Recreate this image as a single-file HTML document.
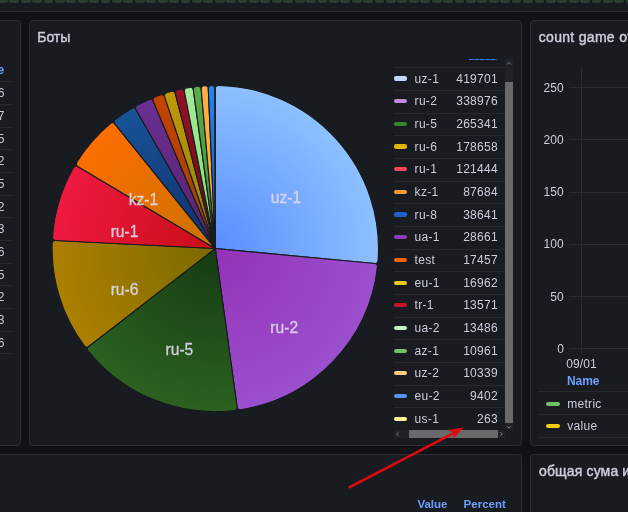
<!DOCTYPE html>
<html lang="ru"><head><meta charset="utf-8"><title>Боты</title>
<style>
html,body{margin:0;padding:0}
body{width:628px;height:512px;overflow:hidden;position:relative;background:#111217;font-family:"Liberation Sans",sans-serif;color:#ccccdc;font-size:12px}
.panel{position:absolute;box-sizing:border-box;background:#181b1f;border:1px solid #2a2d32;border-radius:4px;overflow:hidden}
.title{position:absolute;font-size:14px;line-height:16px;color:#ccccdc;white-space:nowrap;-webkit-text-stroke:0.45px #ccccdc}
.top i{position:absolute;top:15px;height:7.3px;width:9.8px;border-radius:2px;background:#2b3d2c}
.pie{position:absolute;left:-1px;top:-1px}
.plabels text{font-family:"Liberation Sans",sans-serif;font-size:15.6px}
.legend{position:absolute;left:364px;top:37.7px;width:119px;height:380px;overflow:hidden}
.lr{position:absolute;left:0;width:111px;height:22.67px;line-height:22.67px;white-space:nowrap}
.lr i{position:absolute;left:0px;top:9.2px;width:13.2px;height:4.1px;border-radius:2px}
.ln{position:absolute;left:20.6px;top:0.4px;letter-spacing:0.3px}
.lv{position:absolute;right:7.2px;top:0.4px;letter-spacing:0.25px}
.sep{position:absolute;left:0;width:111px;height:1px;background:#26292e}
.vtrack{position:absolute;left:111px;top:0;width:8px;height:371.5px;background:#1f2226}
.vthumb{position:absolute;left:0;top:23.3px;width:8px;height:340.6px;background:#6a6a6c}
.htrack{position:absolute;left:0;top:371.5px;width:111px;height:8px;background:#1f2226}
.hthumb{position:absolute;left:15px;top:0;width:88.6px;height:8px;background:#6a6a6c}
.hdrfrag{position:absolute;left:74.8px;top:0px;width:28.2px;height:1.4px;background:repeating-linear-gradient(90deg,#3f78f5 0 4px,#2b4ea0 4px 5.5px)}
.lt{position:absolute;left:-2.2px;width:7px;height:22.68px;line-height:25.4px;text-align:left;font-size:12px}
.lsep{position:absolute;left:-1px;width:13px;height:1px;background:#26292e}
.yl{position:absolute;left:0;width:34px;text-align:right;height:16px;line-height:16px;letter-spacing:0.2px}
.gh{position:absolute;left:38.5px;width:80px;height:1px;background:#2a2d32}
.gv{position:absolute;left:51px;top:66.6px;width:1px;height:287px;background:#2a2d32}
.hdr{position:absolute;color:#6e9fff;font-weight:bold;font-size:11.5px;white-space:nowrap;line-height:14px}
.rrow{position:absolute;left:8px;width:120px;height:22.8px;line-height:22.8px;border-top:1px solid #26292e}
.rrow i{position:absolute;left:7.8px;top:9.2px;width:14px;height:4.1px;border-radius:2px}
.rrow span{position:absolute;left:29.2px;top:0.2px;letter-spacing:0.3px}
</style></head><body>

<div class="panel top" style="left:-10px;top:-20px;width:660px;height:32px;border-radius:0"><i style="left:6.90px"></i><i style="left:18.32px"></i><i style="left:29.73px"></i><i style="left:41.15px"></i><i style="left:52.57px"></i><i style="left:63.98px"></i><i style="left:75.40px"></i><i style="left:86.82px"></i><i style="left:98.24px"></i><i style="left:109.65px"></i><i style="left:121.07px"></i><i style="left:132.49px"></i><i style="left:143.90px"></i><i style="left:155.32px"></i><i style="left:166.74px"></i><i style="left:178.16px"></i><i style="left:189.57px"></i><i style="left:200.99px"></i><i style="left:212.41px"></i><i style="left:223.82px"></i><i style="left:235.24px"></i><i style="left:246.66px"></i><i style="left:258.07px"></i><i style="left:269.49px"></i><i style="left:280.91px"></i><i style="left:292.32px"></i><i style="left:303.74px"></i><i style="left:315.16px"></i><i style="left:326.58px"></i><i style="left:337.99px"></i><i style="left:349.41px"></i><i style="left:360.83px"></i><i style="left:372.24px"></i><i style="left:383.66px"></i><i style="left:395.08px"></i><i style="left:406.49px"></i><i style="left:417.91px"></i><i style="left:429.33px"></i><i style="left:440.75px"></i><i style="left:452.16px"></i><i style="left:463.58px"></i><i style="left:475.00px"></i><i style="left:486.41px"></i><i style="left:497.83px"></i><i style="left:509.25px"></i><i style="left:520.66px"></i><i style="left:532.08px"></i><i style="left:543.50px"></i><i style="left:554.92px"></i><i style="left:566.33px"></i><i style="left:577.75px"></i><i style="left:589.17px"></i><i style="left:600.58px"></i><i style="left:612.00px"></i><i style="left:623.42px"></i><i style="left:634.83px"></i><i style="left:646.25px"></i></div>

<div class="panel" style="left:-100px;top:20px;width:121px;height:426px">
  <div style="position:absolute;left:99px;top:-1px;width:22px;height:426px">
    <div class="hdr" style="left:-2.4px;top:42.6px;font-size:12px">e</div>
    <div style="position:absolute;left:0;top:-20px"><div class="lsep" style="top:81.20px"></div><div class="lsep" style="top:103.88px"></div><div class="lsep" style="top:126.56px"></div><div class="lsep" style="top:149.24px"></div><div class="lsep" style="top:171.92px"></div><div class="lsep" style="top:194.60px"></div><div class="lsep" style="top:217.28px"></div><div class="lsep" style="top:239.96px"></div><div class="lsep" style="top:262.64px"></div><div class="lsep" style="top:285.32px"></div><div class="lsep" style="top:308.00px"></div><div class="lsep" style="top:330.68px"></div><div class="lsep" style="top:353.36px"></div><div class="lt" style="top:81.20px">6</div><div class="lt" style="top:103.88px">7</div><div class="lt" style="top:126.56px">5</div><div class="lt" style="top:149.24px">2</div><div class="lt" style="top:171.92px">5</div><div class="lt" style="top:194.60px">2</div><div class="lt" style="top:217.28px">3</div><div class="lt" style="top:239.96px">6</div><div class="lt" style="top:262.64px">5</div><div class="lt" style="top:285.32px">2</div><div class="lt" style="top:308.00px">3</div><div class="lt" style="top:330.68px">6</div></div>
  </div>
</div>

<div class="panel" style="left:29px;top:20px;width:493px;height:426px">
  <div class="title" style="left:7.2px;top:8px;font-size:14px">Боты</div>
  <svg class="pie" width="493" height="426" viewBox="29 20 493 426"><defs><radialGradient id="g0" gradientUnits="userSpaceOnUse" cx="215.3" cy="248.6" r="163.2"><stop offset="0" stop-color="#5a8eff"/><stop offset="1" stop-color="#8dc0ff"/></radialGradient><radialGradient id="g1" gradientUnits="userSpaceOnUse" cx="215.3" cy="248.6" r="163.2"><stop offset="0" stop-color="#9333b7"/><stop offset="1" stop-color="#9b4fce"/></radialGradient><radialGradient id="g2" gradientUnits="userSpaceOnUse" cx="215.3" cy="248.6" r="163.2"><stop offset="0" stop-color="#153b14"/><stop offset="1" stop-color="#2c6120"/></radialGradient><radialGradient id="g3" gradientUnits="userSpaceOnUse" cx="215.3" cy="248.6" r="163.2"><stop offset="0" stop-color="#7a6a00"/><stop offset="1" stop-color="#ad7f00"/></radialGradient><radialGradient id="g4" gradientUnits="userSpaceOnUse" cx="215.3" cy="248.6" r="163.2"><stop offset="0" stop-color="#c70e17"/><stop offset="1" stop-color="#ef1940"/></radialGradient><radialGradient id="g5" gradientUnits="userSpaceOnUse" cx="215.3" cy="248.6" r="163.2"><stop offset="0" stop-color="#c97200"/><stop offset="1" stop-color="#fc6e00"/></radialGradient><radialGradient id="g6" gradientUnits="userSpaceOnUse" cx="215.3" cy="248.6" r="163.2"><stop offset="0" stop-color="#112f6c"/><stop offset="1" stop-color="#185398"/></radialGradient><radialGradient id="g7" gradientUnits="userSpaceOnUse" cx="215.3" cy="248.6" r="163.2"><stop offset="0" stop-color="#58226b"/><stop offset="1" stop-color="#6a2f91"/></radialGradient><radialGradient id="g8" gradientUnits="userSpaceOnUse" cx="215.3" cy="248.6" r="163.2"><stop offset="0" stop-color="#944500"/><stop offset="1" stop-color="#c74200"/></radialGradient><radialGradient id="g9" gradientUnits="userSpaceOnUse" cx="215.3" cy="248.6" r="163.2"><stop offset="0" stop-color="#918307"/><stop offset="1" stop-color="#c1970a"/></radialGradient><radialGradient id="g10" gradientUnits="userSpaceOnUse" cx="215.3" cy="248.6" r="163.2"><stop offset="0" stop-color="#680c10"/><stop offset="1" stop-color="#961129"/></radialGradient><radialGradient id="g11" gradientUnits="userSpaceOnUse" cx="215.3" cy="248.6" r="163.2"><stop offset="0" stop-color="#75e06e"/><stop offset="1" stop-color="#a8e998"/></radialGradient><radialGradient id="g12" gradientUnits="userSpaceOnUse" cx="215.3" cy="248.6" r="163.2"><stop offset="0" stop-color="#3e883a"/><stop offset="1" stop-color="#5bac49"/></radialGradient><radialGradient id="g13" gradientUnits="userSpaceOnUse" cx="215.3" cy="248.6" r="163.2"><stop offset="0" stop-color="#ffb217"/><stop offset="1" stop-color="#ffab4a"/></radialGradient><radialGradient id="g14" gradientUnits="userSpaceOnUse" cx="215.3" cy="248.6" r="163.2"><stop offset="0" stop-color="#1050d3"/><stop offset="1" stop-color="#2883ee"/></radialGradient><radialGradient id="g15" gradientUnits="userSpaceOnUse" cx="215.3" cy="248.6" r="163.2"><stop offset="0" stop-color="#ffff33"/><stop offset="1" stop-color="#ffea66"/></radialGradient></defs><g stroke="#181b1f" stroke-width="1.15" stroke-linejoin="round"><path d="M215.30 248.55L215.30 88.38A3.00 3.00 0 0 1 218.36 85.38A163.20 163.20 0 0 1 378.05 260.72A3.00 3.00 0 0 1 374.77 263.48Z" fill="url(#g0)"/><path d="M215.30 248.55L374.77 263.48A3.00 3.00 0 0 1 377.48 266.81A163.20 163.20 0 0 1 240.56 409.78A3.00 3.00 0 0 1 237.12 407.23Z" fill="url(#g1)"/><path d="M215.30 248.55L237.12 407.23A3.00 3.00 0 0 1 234.50 410.62A163.20 163.20 0 0 1 88.06 350.75A3.00 3.00 0 0 1 88.57 346.50Z" fill="url(#g2)"/><path d="M215.30 248.55L88.57 346.50A3.00 3.00 0 0 1 84.33 345.92A163.20 163.20 0 0 1 52.18 243.35A3.00 3.00 0 0 1 55.33 240.45Z" fill="url(#g3)"/><path d="M215.30 248.55L55.33 240.45A3.00 3.00 0 0 1 52.49 237.24A163.20 163.20 0 0 1 73.62 167.55A3.00 3.00 0 0 1 77.76 166.46Z" fill="url(#g4)"/><path d="M215.30 248.55L77.76 166.46A3.00 3.00 0 0 1 76.75 162.30A163.20 163.20 0 0 1 110.57 123.39A3.00 3.00 0 0 1 114.83 123.81Z" fill="url(#g5)"/><path d="M215.30 248.55L114.83 123.81A3.00 3.00 0 0 1 115.33 119.56A163.20 163.20 0 0 1 131.80 108.33A3.00 3.00 0 0 1 135.94 109.42Z" fill="url(#g6)"/><path d="M215.30 248.55L135.94 109.42A3.00 3.00 0 0 1 137.11 105.30A163.20 163.20 0 0 1 149.17 99.35A3.00 3.00 0 0 1 153.15 100.93Z" fill="url(#g7)"/><path d="M215.30 248.55L153.15 100.93A3.00 3.00 0 0 1 154.81 96.98A163.20 163.20 0 0 1 160.71 94.75A3.00 3.00 0 0 1 164.56 96.63Z" fill="url(#g8)"/><path d="M215.30 248.55L164.56 96.63A3.00 3.00 0 0 1 166.50 92.82A163.20 163.20 0 0 1 171.57 91.32A3.00 3.00 0 0 1 175.28 93.46Z" fill="url(#g9)"/><path d="M215.30 248.55L175.28 93.46A3.00 3.00 0 0 1 177.49 89.79A163.20 163.20 0 0 1 180.75 89.05A3.00 3.00 0 0 1 184.33 91.40Z" fill="url(#g10)"/><path d="M215.30 248.55L184.33 91.40A3.00 3.00 0 0 1 186.74 87.87A163.20 163.20 0 0 1 189.90 87.34A3.00 3.00 0 0 1 193.34 89.89Z" fill="url(#g11)"/><path d="M215.30 248.55L193.34 89.89A3.00 3.00 0 0 1 195.96 86.50A163.20 163.20 0 0 1 197.86 86.28A3.00 3.00 0 0 1 201.17 89.00Z" fill="url(#g12)"/><path d="M215.30 248.55L201.17 89.00A3.00 3.00 0 0 1 203.95 85.74A163.20 163.20 0 0 1 205.10 85.67A3.00 3.00 0 0 1 208.29 88.53Z" fill="url(#g13)"/><path d="M215.30 248.55L208.28 88.50A2.97 2.97 0 0 1 211.18 85.40A163.20 163.20 0 0 1 211.85 85.39A2.97 2.97 0 0 1 214.88 88.35Z" fill="url(#g14)"/><path d="M215.30 248.55L214.87 85.35A163.20 163.20 0 0 1 215.30 85.35Z" fill="url(#g15)"/></g><g class="plabels" text-anchor="middle" fill="#dcd8e6" fill-opacity="0.92" stroke="#dcd8e6" stroke-opacity="0.9" stroke-width="0.3"><text x="286.0" y="202.6">uz-1</text><text x="284.2" y="333.2">ru-2</text><text x="179.4" y="355.0">ru-5</text><text x="124.5" y="294.8">ru-6</text><text x="124.5" y="237.3">ru-1</text><text x="143.5" y="204.5">kz-1</text></g></svg>
  <div class="legend">
    <div class="hdrfrag"></div>
    <div class="sep" style="top:8.60px"></div><div class="sep" style="top:31.27px"></div><div class="sep" style="top:53.94px"></div><div class="sep" style="top:76.61px"></div><div class="sep" style="top:99.28px"></div><div class="sep" style="top:121.95px"></div><div class="sep" style="top:144.62px"></div><div class="sep" style="top:167.29px"></div><div class="sep" style="top:189.96px"></div><div class="sep" style="top:212.63px"></div><div class="sep" style="top:235.30px"></div><div class="sep" style="top:257.97px"></div><div class="sep" style="top:280.64px"></div><div class="sep" style="top:303.31px"></div><div class="sep" style="top:325.98px"></div><div class="sep" style="top:348.65px"></div>
    <div class="lr" style="top:8.60px"><i style="background:#C0D8FF"></i><span class="ln">uz-1</span><span class="lv">419701</span></div><div class="lr" style="top:31.27px"><i style="background:#c68ae2"></i><span class="ln">ru-2</span><span class="lv">338976</span></div><div class="lr" style="top:53.94px"><i style="background:#37872D"></i><span class="ln">ru-5</span><span class="lv">265341</span></div><div class="lr" style="top:76.61px"><i style="background:#E0B400"></i><span class="ln">ru-6</span><span class="lv">178658</span></div><div class="lr" style="top:99.28px"><i style="background:#F2495C"></i><span class="ln">ru-1</span><span class="lv">121444</span></div><div class="lr" style="top:121.95px"><i style="background:#FF9830"></i><span class="ln">kz-1</span><span class="lv">87684</span></div><div class="lr" style="top:144.62px"><i style="background:#1F60C4"></i><span class="ln">ru-8</span><span class="lv">38641</span></div><div class="lr" style="top:167.29px"><i style="background:#8F3BB8"></i><span class="ln">ua-1</span><span class="lv">28661</span></div><div class="lr" style="top:189.96px"><i style="background:#FA6400"></i><span class="ln">test</span><span class="lv">17457</span></div><div class="lr" style="top:212.63px"><i style="background:#F2CC0C"></i><span class="ln">eu-1</span><span class="lv">16962</span></div><div class="lr" style="top:235.30px"><i style="background:#C4162A"></i><span class="ln">tr-1</span><span class="lv">13571</span></div><div class="lr" style="top:257.97px"><i style="background:#C8F2C2"></i><span class="ln">ua-2</span><span class="lv">13486</span></div><div class="lr" style="top:280.64px"><i style="background:#73BF69"></i><span class="ln">az-1</span><span class="lv">10961</span></div><div class="lr" style="top:303.31px"><i style="background:#FFCB7D"></i><span class="ln">uz-2</span><span class="lv">10339</span></div><div class="lr" style="top:325.98px"><i style="background:#5794F2"></i><span class="ln">eu-2</span><span class="lv">9402</span></div><div class="lr" style="top:348.65px"><i style="background:#FFF899"></i><span class="ln">us-1</span><span class="lv">263</span></div>
    <div class="vtrack"><div class="vthumb"></div>
      <svg style="position:absolute;left:0;top:0" width="8" height="372" viewBox="0 0 8 372"><path d="M2.2 5.4L4 3.4L5.8 5.4" fill="none" stroke="#7b7e86" stroke-width="1"/><path d="M2.2 367.2L4 369.2L5.8 367.2" fill="none" stroke="#7b7e86" stroke-width="1"/></svg>
    </div>
    <div class="htrack"><div class="hthumb"></div>
      <svg style="position:absolute;left:0;top:0" width="111" height="8" viewBox="0 0 111 8"><path d="M4.4 2.2L2.6 4L4.4 5.8" fill="none" stroke="#7b7e86" stroke-width="1"/><path d="M106.4 2.2L108.2 4L106.4 5.8" fill="none" stroke="#7b7e86" stroke-width="1"/></svg>
    </div>
  </div>
</div>

<div class="panel" style="left:530px;top:20px;width:200px;height:426px">
  <div class="title" style="left:7.8px;top:7.8px;letter-spacing:0.3px">count game of</div>
  <div style="position:absolute;left:-1px;top:-21px;width:200px;height:426px">
    <div class="yl" style="top:79.6px">250</div><div class="gh" style="top:87.1px"></div><div class="yl" style="top:131.8px">200</div><div class="gh" style="top:139.3px"></div><div class="yl" style="top:184.0px">150</div><div class="gh" style="top:191.5px"></div><div class="yl" style="top:236.3px">100</div><div class="gh" style="top:243.8px"></div><div class="yl" style="top:288.5px">50</div><div class="gh" style="top:296.0px"></div><div class="yl" style="top:340.7px">0</div><div class="gh" style="top:348.2px"></div>
    <div class="gv"></div>
    <div style="position:absolute;left:36.2px;top:356px;letter-spacing:0.1px;line-height:16px">09/01</div>
    <div class="hdr" style="left:37px;top:373.6px;font-size:12px;letter-spacing:-0.1px">Name</div>
    <div class="rrow" style="top:391.4px"><i style="background:#73bf69"></i><span>metric</span></div>
    <div class="rrow" style="top:414.2px"><i style="background:#f2cc0c"></i><span>value</span></div>
    <div class="rrow" style="top:437px"></div>
  </div>
</div>

<div class="panel" style="left:-100px;top:454px;width:622px;height:200px">
  <div class="hdr" style="left:516.4px;top:42.4px">Value</div>
  <div class="hdr" style="left:562.6px;top:42.4px">Percent</div>
</div>

<div class="panel" style="left:530px;top:454px;width:200px;height:200px">
  <div class="title" style="left:8px;top:8.2px;letter-spacing:0.15px">общая сума и</div>
</div>

<svg style="position:absolute;left:0;top:0;pointer-events:none" width="628" height="512" viewBox="0 0 628 512">
  <path d="M348.8 487.7L455.5 432.2" stroke="#de0a10" stroke-width="2.6" fill="none"/>
  <path d="M463.7 427.5L447.9 429.9L454.4 432.8L452.7 439.6Z" fill="#de0a10"/>
</svg>
</body></html>
